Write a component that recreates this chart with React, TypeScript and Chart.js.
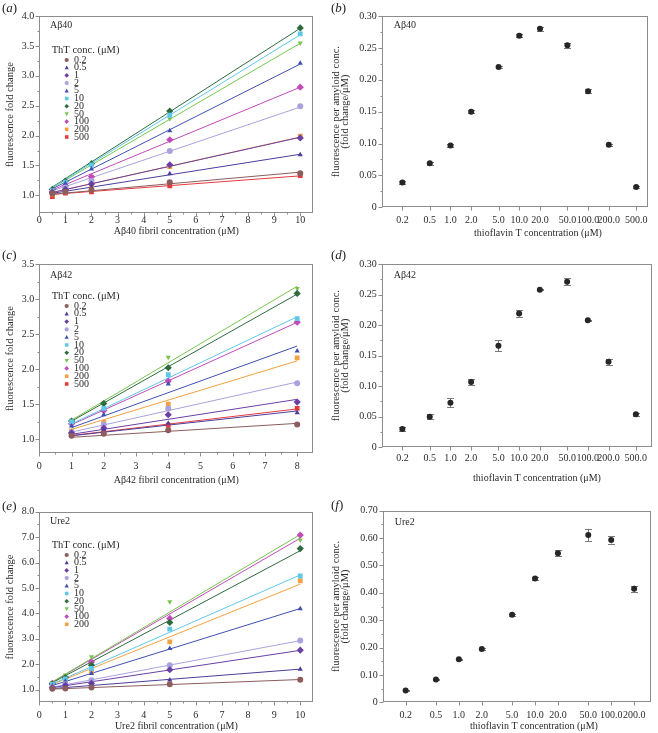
import React, { useEffect, useRef } from 'react';
import { Chart, registerables } from 'chart.js';

Chart.register(...registerables);

const SERIF = '"Liberation Serif", "Times New Roman", Times, serif';
const TEXT = '#2b2b2b';
const FRAME = '#8c8c8c';

// ThT concentration series (legend labels) and their styles
const thtLabels = ['0.2', '0.5', '1', '2', '5', '10', '20', '50', '100', '200', '500'];
const thtColors = ['#8d5c5c', '#4b3d9c', '#6b3fa6', '#a9a2dc', '#3f50b2', '#5fc8e6', '#2f6a3e', '#79c64f', '#c04bb8', '#f3a143', '#e63a3d'];
const thtShapes = ['circle', 'triangle', 'rectRot', 'circle', 'triangle', 'rect', 'rectRot', 'triangleDown', 'rectRot', 'rect', 'rect'];

// ---------- (a) Aβ40 fold change ----------
const fibrilA = [0.5, 1, 2, 5, 10];
const a02 = [1.03, 1.06, 1.09, 1.22, 1.37];
const a05 = [1.04, 1.08, 1.13, 1.36, 1.68];
const a1 = [1.05, 1.10, 1.19, 1.51, 1.96];
const a2 = [1.05, 1.13, 1.24, 1.74, 2.49];
const a5 = [1.07, 1.20, 1.44, 2.08, 3.21];
const a10 = [1.08, 1.22, 1.51, 2.34, 3.70];
const a20 = [1.10, 1.24, 1.53, 2.41, 3.80];
const a50 = [1.08, 1.22, 1.49, 2.28, 3.55];
const a100 = [1.06, 1.16, 1.31, 1.93, 2.81];
const a200 = [1.02, 1.07, 1.17, 1.48, 1.99];
const a500 = [0.98, 1.04, 1.06, 1.16, 1.33];
const xTicksA = [0, 1, 2, 3, 4, 5, 6, 7, 8, 9, 10];
const yTicksA = [1.0, 1.5, 2.0, 2.5, 3.0, 3.5, 4.0];

// ---------- (c) Aβ42 fold change ----------
const fibrilC = [1, 2, 4, 8];
const c02 = [1.05, 1.08, 1.13, 1.21];
const c05 = [1.07, 1.13, 1.23, 1.38];
const c1 = [1.09, 1.16, 1.35, 1.53];
const c2 = [1.10, 1.21, 1.44, 1.80];
const c5 = [1.19, 1.35, 1.79, 2.26];
const c10 = [1.25, 1.44, 1.92, 2.72];
const c20 = [1.26, 1.51, 2.02, 3.08];
const c50 = [1.27, 1.52, 2.17, 3.15];
const c100 = [1.22, 1.41, 1.83, 2.67];
const c200 = [1.12, 1.24, 1.50, 2.16];
const c500 = [1.08, 1.10, 1.20, 1.44];
const xTicksC = [0, 1, 2, 3, 4, 5, 6, 7, 8];
const yTicksC = [1.0, 1.5, 2.0, 2.5, 3.0, 3.5];

// ---------- (e) Ure2 fold change ----------
const fibrilE = [0.5, 1, 2, 5, 10];
const e02 = [1.03, 1.04, 1.08, 1.21, 1.39];
const e05 = [1.06, 1.14, 1.21, 1.38, 1.80];
const e1 = [1.08, 1.17, 1.25, 1.78, 2.55];
const e2 = [1.10, 1.21, 1.37, 1.96, 2.93];
const e5 = [1.15, 1.33, 1.63, 2.62, 4.18];
const e10 = [1.20, 1.42, 1.83, 3.38, 5.47];
const e20 = [1.22, 1.47, 1.96, 3.64, 6.55];
const e50 = [1.27, 1.57, 2.29, 4.46, 6.89];
const e100 = [1.25, 1.49, 2.09, 3.80, 7.08];
const e200 = [1.18, 1.37, 1.70, 2.88, 5.28];
const xTicksE = [0, 1, 2, 3, 4, 5, 6, 7, 8, 9, 10];
const yTicksE = [1, 2, 3, 4, 5, 6, 7, 8];

// ---------- (b) Aβ40 per amyloid conc. ----------
const thtB = [0.2, 0.5, 1, 2, 5, 10, 20, 50, 100, 200, 500];
const meanB = [0.039, 0.069, 0.097, 0.150, 0.220, 0.269, 0.280, 0.254, 0.182, 0.098, 0.032];
const errB = [0.002, 0.002, 0.002, 0.002, 0.002, 0.002, 0.003, 0.004, 0.003, 0.002, 0.002];
const yTicksB = [0, 0.05, 0.10, 0.15, 0.20, 0.25, 0.30];

// ---------- (d) Aβ42 per amyloid conc. ----------
const thtD = [0.2, 0.5, 1, 2, 5, 10, 20, 50, 100, 200, 500];
const meanD = [0.030, 0.050, 0.073, 0.107, 0.166, 0.219, 0.258, 0.271, 0.208, 0.140, 0.054];
const errD = [0.004, 0.004, 0.007, 0.005, 0.009, 0.005, 0.001, 0.006, 0.001, 0.005, 0.002];
const yTicksD = [0, 0.05, 0.10, 0.15, 0.20, 0.25, 0.30];

// ---------- (f) Ure2 per amyloid conc. ----------
const thtF = [0.2, 0.5, 1, 2, 5, 10, 20, 50, 100, 200];
const meanF = [0.043, 0.083, 0.157, 0.195, 0.320, 0.452, 0.545, 0.611, 0.593, 0.415];
const errF = [0.002, 0.003, 0.003, 0.003, 0.003, 0.005, 0.011, 0.023, 0.013, 0.011];
const yTicksF = [0, 0.10, 0.20, 0.30, 0.40, 0.50, 0.60, 0.70];

const seriesA = [a02, a05, a1, a2, a5, a10, a20, a50, a100, a200, a500];
const seriesC = [c02, c05, c1, c2, c5, c10, c20, c50, c100, c200, c500];
const seriesE = [e02, e05, e1, e2, e5, e10, e20, e50, e100, e200];

// linear fit constrained through fold change = 1 at zero fibril
function fitLine(xs: number[], ys: number[]) {
  let sxy = 0;
  let sxx = 0;
  xs.forEach((x, i) => {
    sxy += x * (ys[i] - 1);
    sxx += x * x;
  });
  const k = sxy / sxx;
  const x0 = Math.min(...xs);
  const x1 = Math.max(...xs);
  return [
    { x: x0, y: 1 + k * x0 },
    { x: x1, y: 1 + k * x1 },
  ];
}

function drawMarker(ctx: CanvasRenderingContext2D, shape: string, x: number, y: number, r: number, color: string) {
  ctx.save();
  ctx.fillStyle = color;
  ctx.beginPath();
  if (shape === 'circle') ctx.arc(x, y, r, 0, Math.PI * 2);
  else if (shape === 'rect') ctx.rect(x - r * 0.85, y - r * 0.85, r * 1.7, r * 1.7);
  else if (shape === 'rectRot') {
    ctx.moveTo(x, y - r * 1.1);
    ctx.lineTo(x + r * 1.1, y);
    ctx.lineTo(x, y + r * 1.1);
    ctx.lineTo(x - r * 1.1, y);
    ctx.closePath();
  } else if (shape === 'triangle') {
    ctx.moveTo(x, y - r * 1.1);
    ctx.lineTo(x + r, y + r * 0.75);
    ctx.lineTo(x - r, y + r * 0.75);
    ctx.closePath();
  } else if (shape === 'triangleDown') {
    ctx.moveTo(x, y + r * 1.1);
    ctx.lineTo(x + r, y - r * 0.75);
    ctx.lineTo(x - r, y - r * 0.75);
    ctx.closePath();
  }
  ctx.fill();
  ctx.restore();
}

type Panel = any;

const PANELS: Panel[] = [
  {
    kind: 'left', letter: 'a', letterX: 2, letterY: 0,
    left: 0, top: 0, w: 329, h: 240, padT: 16, padR: 15.7, yW: 39.3, xH: 26.7, xLabelPad: 0.7, xTitlePadB: 2.3,
    x: fibrilA, series: seriesA, xMin: 0, xMax: 10.5, yMin: 0.7, yMax: 4.0, xTicks: xTicksA, yTicks: yTicksA,
    xTitle: 'Aβ40 fibril concentration (μM)', yTitle: 'fluorescence fold change',
    label: 'Aβ40', labelDy: 9, legTitleDy: 34, itemDy: 44, itemStep: 7.7,
  },
  {
    kind: 'right', letter: 'b', letterX: 331, letterY: 0,
    left: 329, top: 0, w: 329, h: 240, padT: 16, padR: 9.7, yW: 52.7, xH: 32.7, xLabelPad: 6.7,
    tht: thtB, mean: meanB, err: errB, xMin: 0.1, xMax: 750, yMin: 0, yMax: 0.3, yTicks: yTicksB,
    xTitleX: 209, xTitleY: 233, label: 'Aβ40', labelDy: 9,
  },
  {
    kind: 'left', letter: 'c', letterX: 2, letterY: 247,
    left: 0, top: 240, w: 329, h: 252, padT: 24, padR: 15.7, yW: 39.3, xH: 38.7, xLabelPad: 7.4, xTitlePadB: 6,
    x: fibrilC, series: seriesC, xMin: 0, xMax: 8.5, yMin: 0.8, yMax: 3.5, xTicks: xTicksC, yTicks: yTicksC,
    xTitle: 'Aβ42 fibril concentration (μM)', yTitle: 'fluorescence fold change',
    label: 'Aβ42', labelDy: 11, legTitleDy: 32.7, itemDy: 42, itemStep: 7.8,
  },
  {
    kind: 'right', letter: 'd', letterX: 331, letterY: 247,
    left: 329, top: 240, w: 329, h: 252, padT: 24, padR: 6.3, yW: 52.7, xH: 44.7, xLabelPad: 5,
    tht: thtD, mean: meanD, err: errD, xMin: 0.1, xMax: 850, yMin: 0, yMax: 0.3, yTicks: yTicksD,
    xTitleX: 208, xTitleY: 238, label: 'Aβ42', labelDy: 11,
  },
  {
    kind: 'left', letter: 'e', letterX: 2, letterY: 498,
    left: 0, top: 492, w: 329, h: 241, padT: 19.7, padR: 15.7, yW: 39.3, xH: 30.7, xLabelPad: 6.7, xTitlePadB: 0.3,
    x: fibrilE, series: seriesE, xMin: 0, xMax: 10.5, yMin: 0.5, yMax: 8.0, xTicks: xTicksE, yTicks: yTicksE,
    xTitle: 'Ure2 fibril concentration (μM)', yTitle: 'fluorescence fold change',
    label: 'Ure2', labelDy: 10, legTitleDy: 33.3, itemDy: 43.3, itemStep: 7.7,
  },
  {
    kind: 'right', letter: 'f', letterX: 331, letterY: 497,
    left: 329, top: 492, w: 329, h: 241, padT: 18.7, padR: 7.3, yW: 53.7, xH: 30.7, xLabelPad: 6.7,
    tht: thtF, mean: meanF, err: errF, xMin: 0.1, xMax: 330, yMin: 0, yMax: 0.7, yTicks: yTicksF,
    xTitleX: 205, xTitleY: 234.7, label: 'Ure2', labelDy: 12,
  },
];

function framePlugin(p: Panel) {
  return {
    id: 'frameTicks',
    beforeDatasetsDraw(chart: any) {
      const { ctx, chartArea: ca, scales } = chart;
      const xs = scales.x;
      const ys = scales.y;
      const L = Math.round(ca.left) + 0.5;
      const R = Math.round(ca.right) - 0.5;
      const T = Math.round(ca.top) + 0.5;
      const B = Math.round(ca.bottom) - 0.5;
      ctx.save();
      ctx.strokeStyle = FRAME;
      ctx.lineWidth = 1;
      ctx.strokeRect(L, T, R - L, B - T);
      ctx.beginPath();
      const xt: number[] = xs.ticks.map((t: any) => t.value);
      const yt: number[] = ys.ticks.map((t: any) => t.value);
      xt.forEach((v) => {
        const px = Math.round(xs.getPixelForValue(v)) + 0.5;
        ctx.moveTo(px, B);
        ctx.lineTo(px, B + 4);
      });
      if (p.kind === 'left') {
        for (let i = 0; i < xt.length - 1; i++) {
          const px = Math.round(xs.getPixelForValue((xt[i] + xt[i + 1]) / 2)) + 0.5;
          ctx.moveTo(px, B);
          ctx.lineTo(px, B + 2);
        }
      }
      yt.forEach((v) => {
        const py = Math.round(ys.getPixelForValue(v)) + 0.5;
        ctx.moveTo(L, py);
        ctx.lineTo(L - 4, py);
      });
      for (let i = 0; i < yt.length - 1; i++) {
        const py = Math.round(ys.getPixelForValue((yt[i] + yt[i + 1]) / 2)) + 0.5;
        ctx.moveTo(L, py);
        ctx.lineTo(L - 2, py);
      }
      ctx.stroke();

      // error bars (right panels)
      if (p.kind === 'right') {
        ctx.beginPath();
        ctx.strokeStyle = '#7a7a7a';
        p.tht.forEach((t: number, i: number) => {
          const px = Math.round(xs.getPixelForValue(t)) + 0.5;
          const y1 = ys.getPixelForValue(p.mean[i] + p.err[i]);
          const y2 = ys.getPixelForValue(p.mean[i] - p.err[i]);
          ctx.moveTo(px, y1);
          ctx.lineTo(px, y2);
          ctx.moveTo(px - 3.5, Math.round(y1) + 0.5);
          ctx.lineTo(px + 3.5, Math.round(y1) + 0.5);
          ctx.moveTo(px - 3.5, Math.round(y2) + 0.5);
          ctx.lineTo(px + 3.5, Math.round(y2) + 0.5);
        });
        ctx.stroke();
      }
      ctx.restore();
    },
  };
}

function annotPlugin(p: Panel) {
  return {
    id: 'annot',
    afterDatasetsDraw(chart: any) {
      const { ctx, chartArea: ca } = chart;
      ctx.save();
      ctx.fillStyle = TEXT;
      ctx.textBaseline = 'middle';
      ctx.textAlign = 'left';
      ctx.font = `10px ${SERIF}`;
      ctx.fillText(p.label, ca.left + (p.kind === 'left' ? 10.7 : 12), ca.top + p.labelDy);
      if (p.kind === 'left') {
        ctx.font = `10.5px ${SERIF}`;
        ctx.fillText('ThT conc. (μM)', ca.left + 12.4, ca.top + p.legTitleDy);
        ctx.font = `10px ${SERIF}`;
        p.series.forEach((_s: number[], i: number) => {
          const y = ca.top + p.itemDy + i * p.itemStep;
          drawMarker(ctx, thtShapes[i], ca.left + 27.4, y, 2.1, thtColors[i]);
          ctx.fillStyle = TEXT;
          ctx.fillText(thtLabels[i], ca.left + 34.7, y);
        });
      } else {
        ctx.textAlign = 'center';
        ctx.fillText('thioflavin T concentration (μM)', p.xTitleX, p.xTitleY);
      }
      ctx.restore();
    },
  };
}

const tickFont = { family: SERIF, size: 10 };

function baseOptions(p: Panel) {
  return {
    responsive: false,
    animation: false,
    events: [],
    layout: { padding: { left: 0, top: p.padT, right: p.padR, bottom: 0 } },
    plugins: { legend: { display: false }, tooltip: { enabled: false } },
  };
}

function leftConfig(p: Panel) {
  const datasets: any[] = [];
  p.series.forEach((ys: number[], i: number) => {
    const color = thtColors[i];
    const shape = thtShapes[i];
    datasets.push({
      data: p.x.map((x: number, j: number) => ({ x, y: ys[j] })),
      pointStyle: shape === 'triangleDown' ? 'triangle' : shape,
      pointRotation: shape === 'triangleDown' ? 180 : 0,
      pointRadius: shape === 'rect' ? 3.4 : shape === 'rectRot' ? 3.6 : 3,
      pointBackgroundColor: color,
      pointBorderColor: color,
      pointBorderWidth: 0,
      showLine: false,
      order: 0,
    });
    datasets.push({
      data: fitLine(p.x, ys),
      showLine: true,
      pointRadius: 0,
      borderColor: color,
      borderWidth: 1,
      order: 1,
    });
  });
  return {
    type: 'scatter',
    data: { datasets },
    options: {
      ...baseOptions(p),
      scales: {
        x: {
          type: 'linear',
          min: p.xMin,
          max: p.xMax,
          afterBuildTicks: (s: any) => {
            s.ticks = p.xTicks.map((v: number) => ({ value: v }));
          },
          afterFit: (s: any) => {
            s.height = p.xH;
          },
          grid: { display: false, drawTicks: false },
          border: { display: false },
          ticks: {
            autoSkip: false,
            maxRotation: 0,
            padding: p.xLabelPad,
            color: TEXT,
            font: tickFont,
            callback: (v: any) => String(v),
          },
          title: {
            display: true,
            text: p.xTitle,
            color: TEXT,
            font: { family: SERIF, size: 10 },
            padding: { top: 0, bottom: p.xTitlePadB },
          },
        },
        y: {
          type: 'linear',
          min: p.yMin,
          max: p.yMax,
          afterBuildTicks: (s: any) => {
            s.ticks = p.yTicks.map((v: number) => ({ value: v }));
          },
          afterFit: (s: any) => {
            s.width = p.yW;
          },
          grid: { display: false, drawTicks: false },
          border: { display: false },
          ticks: {
            autoSkip: false,
            padding: 5,
            color: TEXT,
            font: tickFont,
            callback: (v: any) => Number(v).toFixed(1),
          },
          title: {
            display: true,
            text: p.yTitle,
            color: TEXT,
            font: { family: SERIF, size: 10.5 },
            padding: { top: 4, bottom: 0 },
          },
        },
      },
    },
    plugins: [framePlugin(p), annotPlugin(p)],
  };
}

function rightConfig(p: Panel) {
  return {
    type: 'scatter',
    data: {
      datasets: [
        {
          data: p.tht.map((x: number, i: number) => ({ x, y: p.mean[i] })),
          pointStyle: 'circle',
          pointRadius: 3,
          pointBackgroundColor: '#262626',
          pointBorderWidth: 0,
          showLine: false,
        },
      ],
    },
    options: {
      ...baseOptions(p),
      scales: {
        x: {
          type: 'logarithmic',
          min: p.xMin,
          max: p.xMax,
          afterBuildTicks: (s: any) => {
            s.ticks = p.tht.map((v: number) => ({ value: v }));
          },
          afterFit: (s: any) => {
            s.height = p.xH;
          },
          grid: { display: false, drawTicks: false },
          border: { display: false },
          ticks: {
            autoSkip: false,
            maxRotation: 0,
            padding: p.xLabelPad,
            color: TEXT,
            font: tickFont,
            callback: (v: any) => Number(v).toFixed(1),
          },
          title: { display: false },
        },
        y: {
          type: 'linear',
          min: p.yMin,
          max: p.yMax,
          afterBuildTicks: (s: any) => {
            s.ticks = p.yTicks.map((v: number) => ({ value: v }));
          },
          afterFit: (s: any) => {
            s.width = p.yW;
          },
          grid: { display: false, drawTicks: false },
          border: { display: false },
          ticks: {
            autoSkip: false,
            padding: 5,
            color: TEXT,
            font: tickFont,
            callback: (v: any) => (Number(v) === 0 ? '0' : Number(v).toFixed(2)),
          },
          title: {
            display: true,
            text: ['fluorescence per amyloid conc.', '(fold change/μM)'],
            color: TEXT,
            font: { family: SERIF, size: 10.5, lineHeight: 0.9 },
            padding: { top: 2.5, bottom: 0 },
          },
        },
      },
    },
    plugins: [framePlugin(p), annotPlugin(p)],
  };
}

export default function App() {
  const canvasRefs = useRef<(HTMLCanvasElement | null)[]>([]);

  useEffect(() => {
    const charts = PANELS.map(
      (p, i) => new Chart(canvasRefs.current[i] as HTMLCanvasElement, (p.kind === 'left' ? leftConfig(p) : rightConfig(p)) as any)
    );
    return () => charts.forEach((c) => c.destroy());
  }, []);

  return (
    <div style={{ position: 'absolute', left: 0, top: 0, width: 658, height: 733, background: '#fff', overflow: 'hidden' }}>
      {PANELS.map((p, i) => (
        <canvas
          key={'c' + i}
          ref={(el) => {
            canvasRefs.current[i] = el;
          }}
          width={p.w}
          height={p.h}
          style={{ position: 'absolute', left: p.left, top: p.top, width: p.w, height: p.h }}
        />
      ))}
      {PANELS.map((p, i) => (
        <div
          key={'t' + i}
          style={{
            position: 'absolute',
            left: p.letterX,
            top: p.letterY,
            fontFamily: SERIF,
            fontSize: 13,
            lineHeight: '15px',
            color: '#222',
          }}
        >
          (<i>{p.letter}</i>)
        </div>
      ))}
    </div>
  );
}
